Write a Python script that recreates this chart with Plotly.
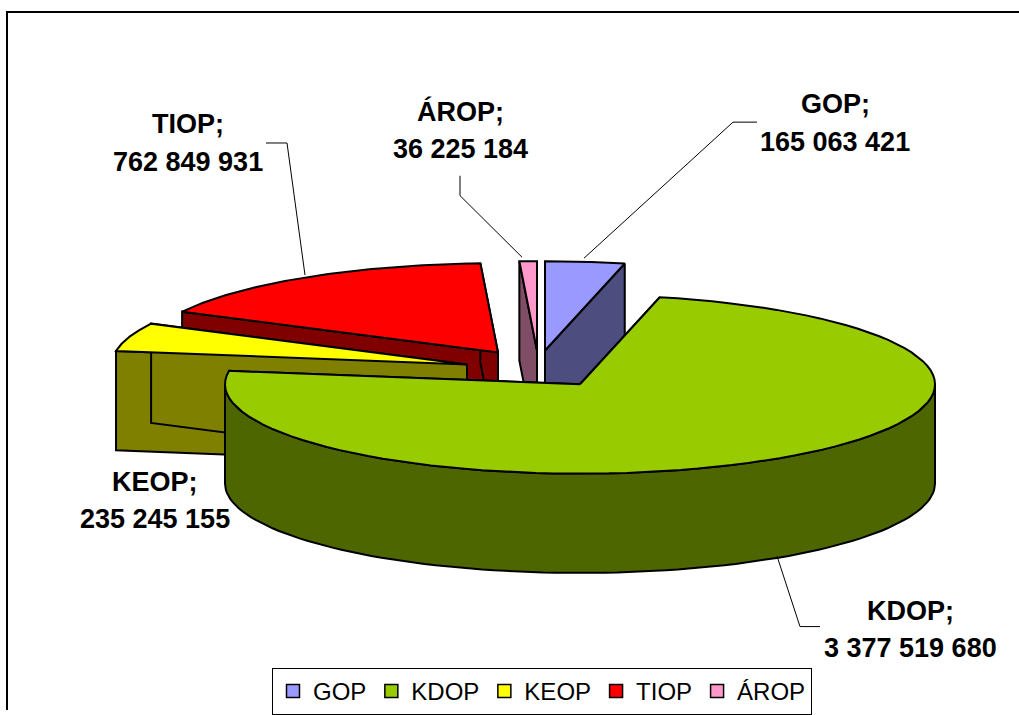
import math
import plotly.graph_objects as go

# --- data ---
categories = ["GOP", "KDOP", "KEOP", "TIOP", "ÁROP"]
values = [165063421, 3377519680, 235245155, 762849931, 36225184]

# --- style ---
top_colors = ["#9999FF", "#99CC00", "#FFFF00", "#FF0000", "#FF99CC"]
side_colors = ["#4D4D80", "#4D6600", "#808000", "#800000", "#804D66"]
apex_x = [545, 580, 467, 498, 537]
apex_y = [353, 387, 367, 355, 353]
label_x = [835, 910, 155, 188, 460]
label_y = [105, 615, 485, 125, 112]
leader_x = [[584, 733, 757], [777, 800, 820], [], [305, 287, 266], [522, 460, 460]]
leader_y = [[260, 123, 123], [560, 631, 631], [], [277, 144, 144], [259, 197, 177]]
draw_order = [3, 2, 4, 0, 1]
RX, RY, DEPTH = 355, 90, 100
W, H = 1019, 715
FONT = "Liberation Sans, Arial, sans-serif"

total = sum(values)
starts, acc = [], 0.0
for v in values:
    starts.append(acc)
    acc += v / total * 2 * math.pi


def rim(ax, ay, a0, a1, n=90, dy=0):
    pts = [a0 + (a1 - a0) * i / n for i in range(n + 1)]
    return ([ax + RX * math.sin(t) for t in pts],
            [ay - RY * math.cos(t) + dy for t in pts])


def poly(fig, xs, ys, color):
    fig.add_trace(go.Scatter(x=xs, y=ys, mode="lines", fill="toself", fillcolor=color,
                             line=dict(color="black", width=2), showlegend=False,
                             hoverinfo="skip"))


fig = go.Figure()
for i in draw_order:
    a0 = starts[i]
    a1 = a0 + values[i] / total * 2 * math.pi
    ax, ay = apex_x[i], apex_y[i]
    rx, ry = rim(ax, ay, a0, a1)
    # radial walls
    for ex, ey in ((rx[0], ry[0]), (rx[-1], ry[-1])):
        poly(fig, [ax, ex, ex, ax, ax], [ay, ey, ey + DEPTH, ay + DEPTH, ay], side_colors[i])
    # outer wall (front half of the rim only)
    f0, f1 = max(a0, math.pi / 2), min(a1, 3 * math.pi / 2)
    if f1 > f0:
        ux, uy = rim(ax, ay, f0, f1)
        lx, ly = rim(ax, ay, f1, f0, dy=DEPTH)
        poly(fig, ux + lx + ux[:1], uy + ly + uy[:1], side_colors[i])
    # top face
    poly(fig, [ax] + rx + [ax], [ay] + ry + [ay], top_colors[i])

# leader lines
for xs, ys in zip(leader_x, leader_y):
    if xs:
        fig.add_trace(go.Scatter(x=xs, y=ys, mode="lines", line=dict(color="black", width=1),
                                 showlegend=False, hoverinfo="skip"))

# legend entries
for name, color in zip(categories, top_colors):
    fig.add_trace(go.Scatter(x=[None], y=[None], mode="markers", name=name,
                             marker=dict(symbol="square", size=13, color=color,
                                         line=dict(color="black", width=1.5))))


def fmt(v):
    return f"{v:,}".replace(",", " ")


annotations = []
for name, v, lx, ly in zip(categories, values, label_x, label_y):
    for text, y in ((name + ";", ly), (fmt(v), ly + 38)):
        annotations.append(dict(x=lx, y=y, xref="x", yref="y", text=f"<b>{text}</b>",
                                showarrow=False, xanchor="center", yanchor="middle",
                                font=dict(family=FONT, size=27, color="black")))

fig.update_layout(
    width=W, height=H, autosize=False,
    margin=dict(l=0, r=0, t=0, b=0, pad=0),
    paper_bgcolor="white", plot_bgcolor="white",
    xaxis=dict(range=[0, W], visible=False, fixedrange=True),
    yaxis=dict(range=[H, 0], visible=False, fixedrange=True),
    annotations=annotations,
    shapes=[dict(type="rect", xref="x", yref="y", x0=7, y0=12, x1=W + 20, y1=H + 20,
                 line=dict(color="black", width=2), layer="below")],
    showlegend=True,
    legend=dict(orientation="h", x=272 / W, xanchor="left", y=1 - 673 / H, yanchor="top",
                bgcolor="white", bordercolor="black", borderwidth=1,
                font=dict(family=FONT, size=24, color="black"),
                itemwidth=30, itemclick=False, itemdoubleclick=False,
                traceorder="normal"),
)

fig.write_html("out.html", post_script="document.body.style.margin='0';document.body.style.overflow='hidden';",
               config=dict(displayModeBar=False))
